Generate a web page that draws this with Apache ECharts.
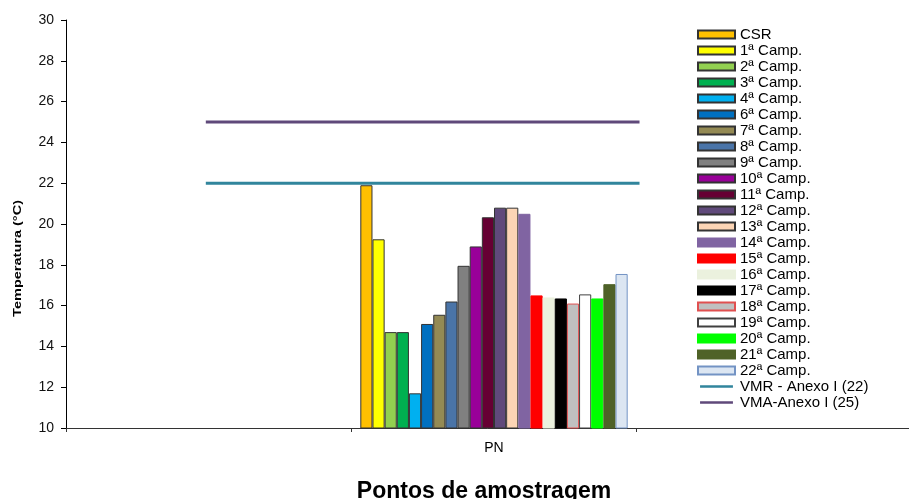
<!DOCTYPE html>
<html>
<head>
<meta charset="utf-8">
<script src="https://cdn.jsdelivr.net/npm/echarts@6/dist/echarts.min.js"></script>
<style>html,body{margin:0;padding:0;background:#fff;}#c{width:909px;height:499px;}</style>
</head>
<body>
<div id="c"></div>
<script>
// ---- data ----
const categories = ['', 'PN', ''];
const campaignNames = ['CSR','1ª Camp.','2ª Camp.','3ª Camp.','4ª Camp.','6ª Camp.','7ª Camp.','8ª Camp.','9ª Camp.','10ª Camp.','11ª Camp.','12ª Camp.','13ª Camp.','14ª Camp.','15ª Camp.','16ª Camp.','17ª Camp.','18ª Camp.','19ª Camp.','20ª Camp.','21ª Camp.','22ª Camp.'];
const campaignValues = [21.9, 19.25, 14.7, 14.7, 11.7, 15.1, 15.55, 16.2, 17.95, 18.9, 20.33, 20.8, 20.8, 20.5, 16.5, 16.4, 16.35, 16.1, 16.55, 16.35, 17.05, 17.55];
const limitNames = ['VMR - Anexo I (22)', 'VMA-Anexo I (25)'];
const limitValues = [22, 25];
const limitSpan = [0.49, 2.01]; // in category units along the axis
const yTicks = {min: 10, max: 30, interval: 2};

// ---- styles ----
const fills = ['#FFC000','#FFFF00','#92D050','#00B050','#00B0F0','#0070C0','#948A54','#4A74A8','#808080','#990099','#660033','#604A7B','#FCD5B5','#8064A2','#FF0000','#EBF1DE','#000000','#C0C0C0','#FFFFFF','#00FF00','#4F6228','#DCE6F2'];
const borders = ['#333','#333','#333','#333','#333','#333','#333','#333','#333','#333','#333','#333','#333','#8064A2','#FF0000','#EBF1DE','#000000','#E05050','#404040','#00FF00','#4F6228','#7393C4'];
const lineColors = ['#31859C', '#5F497A'];
const FONT = 'Liberation Sans, Arial, sans-serif';
const LINE_ICON = 'path://M0,0M0,3H37V6H0ZM37,9';

const series = [];
campaignNames.forEach((n, i) => {
  const d = categories.map(c => c === 'PN' ? campaignValues[i] : '-');
  series.push({
    name: n, type: 'bar', data: d, xAxisIndex: 0,
    barGap: '0%', barCategoryGap: '6.3%',
    itemStyle: {color: fills[i], borderColor: borders[i], borderWidth: 1},
    emphasis: {disabled: true}
  });
});
limitNames.forEach((n, i) => {
  series.push({
    name: n, type: 'line', xAxisIndex: 1, symbol: 'none',
    data: limitSpan.map(x => [x, limitValues[i]]),
    lineStyle: {color: lineColors[i], width: 3},
    itemStyle: {color: lineColors[i]},
    z: 5
  });
});

const chart = echarts.init(document.getElementById('c'));
chart.setOption({
  animation: false,
  backgroundColor: '#fff',
  textStyle: {fontFamily: FONT},
  grid: {left: 66, top: 20, width: 856, bottom: 71, containLabel: false, outerBoundsMode: 'none'},
  legend: {
    orient: 'vertical', left: 692, top: 22,
    itemWidth: 37, itemHeight: 8, itemGap: 1,
    textStyle: {fontFamily: FONT, fontSize: 15, lineHeight: 15, color: '#000'},
    data: campaignNames.map(n => ({name: n, icon: 'rect'})).concat(limitNames.map(n => ({name: n, icon: LINE_ICON})))
  },
  xAxis: [{
    type: 'category', data: categories,
    axisLine: {lineStyle: {color: '#333', width: 1}},
    axisTick: {show: true, length: 4, lineStyle: {color: '#333'}},
    axisLabel: {color: '#000', fontSize: 14, fontFamily: FONT, margin: 13},
    name: 'Pontos de amostragem', nameLocation: 'middle', nameGap: 52,
    nameTextStyle: {fontSize: 23, fontWeight: 'bold', color: '#000', fontFamily: FONT, padding: [0, 20, 0, 0]}
  }, {
    type: 'value', min: 0, max: 3, show: false
  }],
  yAxis: {
    type: 'value', min: yTicks.min, max: yTicks.max, interval: yTicks.interval,
    axisLine: {show: true, lineStyle: {color: '#000'}},
    axisTick: {show: true, length: 5, lineStyle: {color: '#000'}},
    axisLabel: {color: '#111', fontSize: 14, fontFamily: FONT, margin: 12},
    splitLine: {show: false}
  },
  graphic: [{
    type: 'text', left: 12, top: 200, rotation: Math.PI / 2, scaleX: 1.32,
    style: {text: 'Temperatura (°C)', fontSize: 11, fontWeight: 'bold', fill: '#000', fontFamily: FONT}
  }],
  series: series
});
</script>
</body>
</html>
